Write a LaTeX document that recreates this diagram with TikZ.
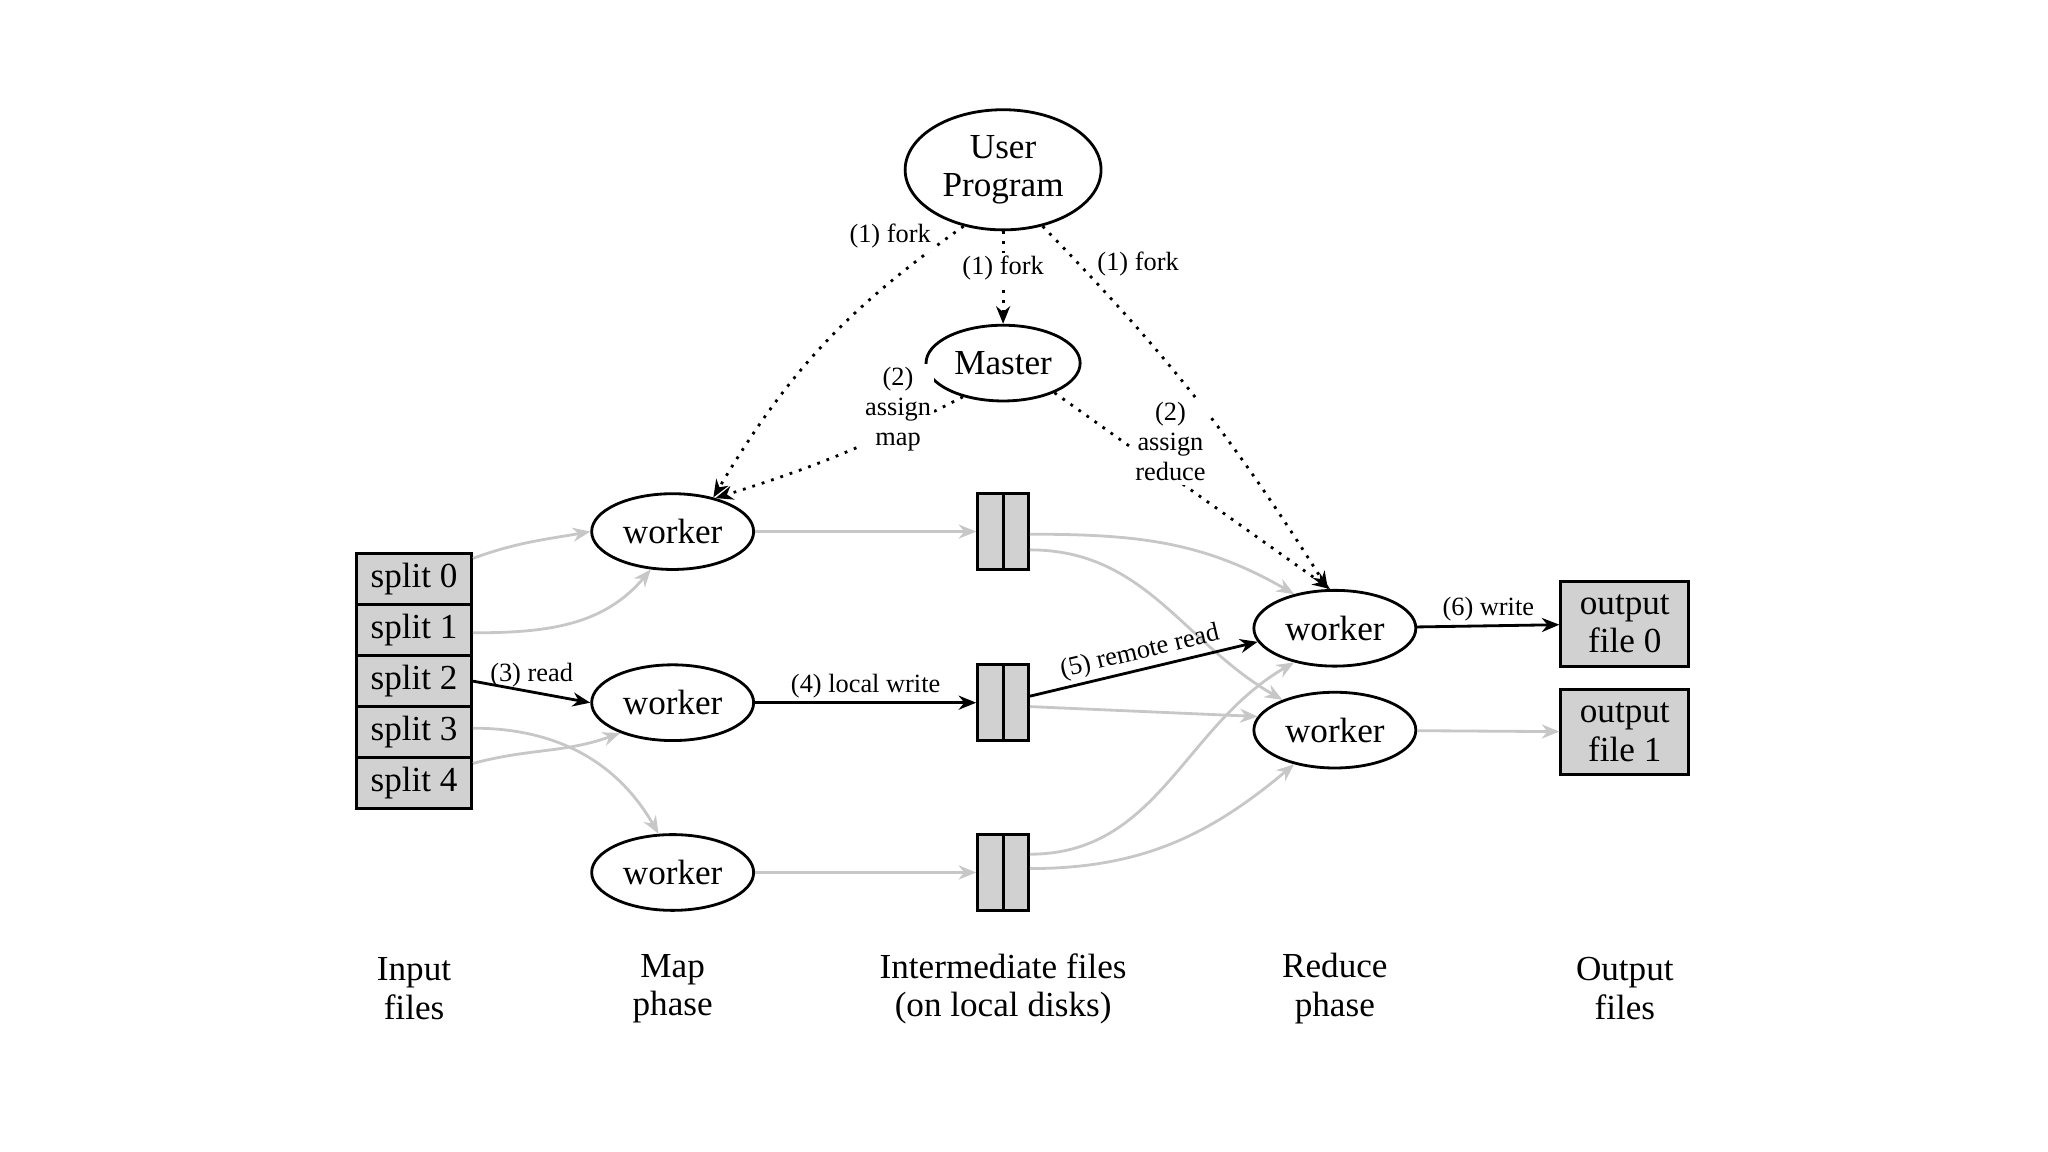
\documentclass[tikz,border=0pt]{standalone}
\usepackage{fontspec}
\setmainfont{Liberation Serif}
\usetikzlibrary{positioning, arrows.meta, shapes.geometric, calc}

\begin{document}
\begin{tikzpicture}[
        x=0.01306cm, y=-0.01306cm,
        >={Stealth[length=5pt, width=4pt]},
        % Styles
        proc/.style={ellipse, draw, thick, inner sep=0pt, font=\fontsize{10}{11}\selectfont, align=center},
        splitbox/.style={rectangle, draw, thick, fill=black!18, minimum width=88*0.01306cm,
                minimum height=39*0.01306cm, inner sep=0pt, font=\fontsize{10}{11}\selectfont},
        outbox/.style={rectangle, draw, thick, fill=black!18, minimum width=98*0.01306cm,
                minimum height=65*0.01306cm, inner sep=0pt, align=center, font=\fontsize{10}{11}\selectfont},
        filebox/.style={rectangle, draw, thick, fill=black!18, minimum width=39*0.01306cm,
                minimum height=58*0.01306cm, inner sep=0pt},
        grayarrow/.style={->, black!22, thick},
        blackarrow/.style={->, thick},
        dotarrow/.style={->, dotted, thick},
        edgelab/.style={font=\fontsize{7.5}{8.5}\selectfont, align=center, inner sep=1pt, fill=white},
        phaselab/.style={font=\fontsize{10}{11}\selectfont, align=center}, ]

        \useasboundingbox (0,0) rectangle (1568,882);

        % === CONTROL ===
        \node[proc, minimum width=150*0.01306cm, minimum height=92*0.01306cm] (user) at (768,130) {User\\Program};
        \node[proc, minimum width=118*0.01306cm, minimum height=58*0.01306cm] (master) at (768,278) {Master};

        % === MAP WORKERS ===
        \node[proc, minimum width=124*0.01306cm, minimum height=58*0.01306cm] (mw1) at (515,407) {worker};
        \node[proc, minimum width=124*0.01306cm, minimum height=58*0.01306cm] (mw2) at (515,538) {worker};
        \node[proc, minimum width=124*0.01306cm, minimum height=58*0.01306cm] (mw3) at (515,668) {worker};

        % === REDUCE WORKERS ===
        \node[proc, minimum width=124*0.01306cm, minimum height=58*0.01306cm] (rw1) at (1022,481) {worker};
        \node[proc, minimum width=124*0.01306cm, minimum height=58*0.01306cm] (rw2) at (1022,559) {worker};

        % === INPUT SPLITS ===
        \foreach \i/\y in {0/443.5, 1/482.5, 2/521.5, 3/560.5, 4/599.5}
            \node[splitbox] (s\i) at (317,\y) {split \i};

        % === INTERMEDIATE FILES ===
        \foreach \i/\y in {1/407, 2/538, 3/668} {
            \node[filebox] (f\i) at (768,\y) {};
            \draw[thick] (f\i.north) -- (f\i.south);
        }

        % === OUTPUT FILES ===
        \node[outbox] (o0) at (1244,477.5) {output\\file 0};
        \node[outbox] (o1) at (1244,560.5) {output\\file 1};

        % Fork / assign
        \draw[dotarrow] (user) -- node[edgelab, pos=0.4] {(1) fork} (master);
        \draw[dotarrow] (user.-125) to[bend right=12] node[edgelab, pos=0.04, left=4pt] {(1) fork} (mw1.40);
        \draw[dotarrow] (user.-55) to[bend left=6] node[edgelab, pos=0.1, right=4pt] {(1) fork} (rw1.100);
        \draw[dotarrow] (master.-140) to[bend left=5] node[edgelab, pos=0.45, above right=-2pt and 2pt] {(2)\\assign\\map} (mw1.38);
        \draw[dotarrow] (master.-30) -- node[edgelab, pos=0.25, right=2pt] {(2)\\assign\\reduce} (rw1.97);

        % Read
        \draw[grayarrow] (s0.east) ++(0,-16) to[out=20, in=190] (mw1.west);
        \draw[grayarrow] ($(s1.east)+(0,2)$) to[out=0, in=-130] (mw1.-120);
        \draw[blackarrow] (s2.east) -- node[edgelab, above, fill=none] {(3) read} (mw2.west);
        \draw[grayarrow] ($(s3.east)+(0,-3)$) to[out=0, in=120] (mw3.110);
        \draw[grayarrow] ($(s4.east)+(0,-15)$) to[out=15, in=200] (mw2.-150);

        % Local write
        \draw[grayarrow] (mw1) -- (f1);
        \draw[blackarrow] (mw2) -- node[edgelab, above, fill=none] {(4) local write} (f2);
        \draw[grayarrow] (mw3) -- (f3);

        % Remote read
        \draw[grayarrow] ($(f1.east)+(0,2)$) to[out=0, in=150] (rw1.140);
        \draw[grayarrow] ($(f1.east)+(0,14)$) to[out=0, in=150] (rw2.150);
        \draw[blackarrow] ($(f2.east)+(0,-5)$) -- node[edgelab, above, sloped, fill=none] {(5) remote read} (rw1.-170);
        \draw[grayarrow] ($(f2.east)+(0,3)$) -- (rw2.170);
        \draw[grayarrow] ($(f3.east)+(0,-14)$) to[out=0, in=210] (rw1.-140);
        \draw[grayarrow] ($(f3.east)+(0,-3)$) to[out=0, in=220] (rw2.-140);

        % Write
        \draw[blackarrow] (rw1) -- node[edgelab, above, fill=none] {(6) write} (o0);
        \draw[grayarrow] (rw2) -- (o1);

        % Phase labels
        \node[phaselab] (l1) at (317,757) {Input\\files};
        \node[phaselab] (l2) at (515,757) {Map\\phase};
        \node[phaselab] (l3) at (768,757) {Intermediate files\\(on local disks)};
        \node[phaselab] (l4) at (1022,757) {Reduce\\phase};
        \node[phaselab] (l5) at (1244,757) {Output\\files};

    \end{tikzpicture}
\end{document}
